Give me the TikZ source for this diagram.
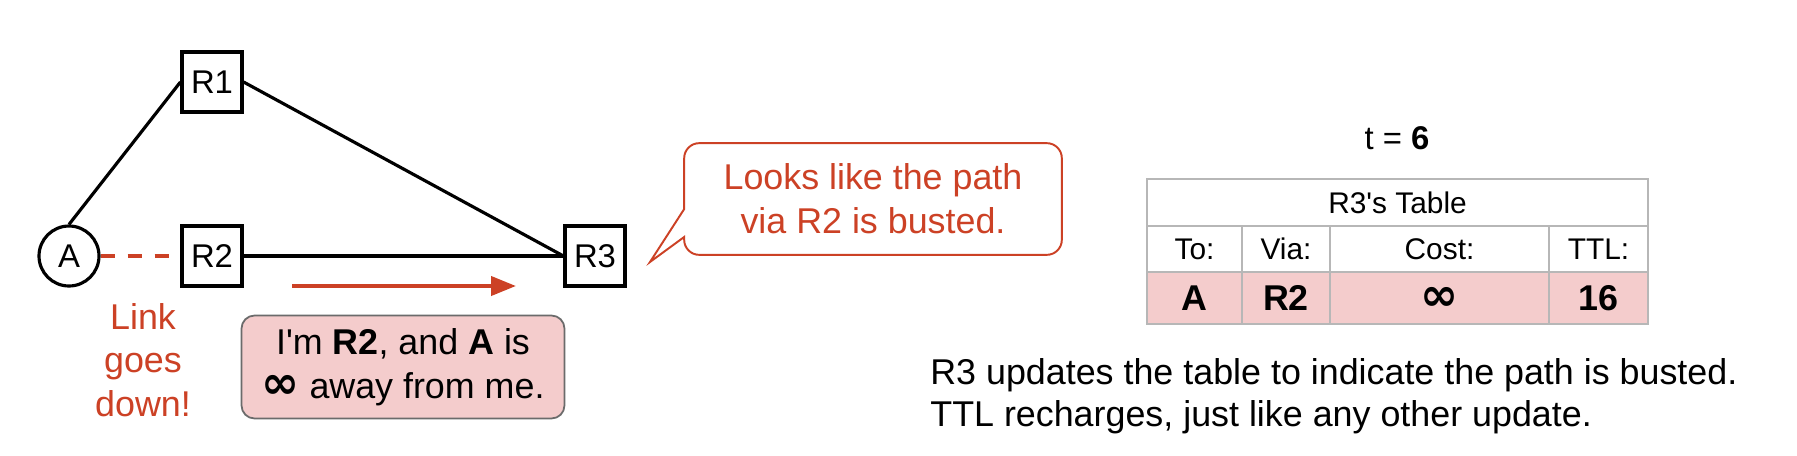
\documentclass[tikz,border=0pt]{standalone}
\usepackage{fontspec}
\setmainfont{Liberation Sans}
\newfontfamily\symfont{DejaVu Sans}
\usetikzlibrary{arrows.meta,calc}
\definecolor{alert}{HTML}{CC4125}
\definecolor{blush}{HTML}{F4CCCC}
\definecolor{frame}{HTML}{6B6B6B}
\definecolor{grid}{HTML}{B7B7B7}
\newcommand{\unbounded}{{\symfont\bfseries\fontsize{26}{24}\selectfont ∞}}

\begin{document}
\begin{tikzpicture}[x=0.02cm,y=-0.02cm,font=\fontsize{20.4}{24.9}\selectfont,
  router/.style={draw,line width=1.8pt,minimum width=1.2cm,minimum height=1.2cm,
    inner sep=0pt,font=\fontsize{18.7}{22}\selectfont},
  host/.style={draw,circle,line width=1.8pt,minimum size=1.2cm,inner sep=0pt,
    font=\fontsize{18.7}{22}\selectfont},
  link/.style={line width=1.8pt},
  cell/.style={draw=grid,line width=1.1pt,inner sep=0pt,text height=12.2pt,text depth=0pt,
    font=\fontsize{17}{20}\selectfont},
  entry/.style={cell,fill=blush,minimum height=1.04cm,text height=14.6pt,
    font=\bfseries\fontsize{20.4}{24}\selectfont}]
  \useasboundingbox[fill=white] (0,0) rectangle (1797,456);

  % network
  \node[host] (A) at (69,256) {A};
  \node[router] (R1) at (212,82) {R1};
  \node[router] (R2) at (212,256) {R2};
  \node[router] (R3) at (595,256) {R3};
  \draw[link] (A.north) -- (R1.west);
  \draw[link] (R1.east) -- (R3.west);
  \draw[link] (R2.east) -- (R3.west);
  \draw[alert,line width=1.8pt,dash pattern=on 0.28cm off 0.26cm] (A.east) -- (R2.west);

  \node[alert,align=center] (linkdown) at (143,360) {Link\\goes\\down!};

  % advertisement from R2
  \coordinate (pushfrom) at (292,286);
  \coordinate (pushto) at (516,286);
  \draw[alert,line width=2.3pt,-{Triangle[length=0.5cm,width=0.38cm]}] (pushfrom) -- (pushto);
  \node[draw=frame,fill=blush,line width=1pt,rounded corners=0.26cm,align=center,
        minimum width=6.46cm,minimum height=2.06cm,inner sep=0pt] (report) at (403,367)
    {I\textquotesingle m \textbf{R2}, and \textbf{A} is\\\unbounded{} away from me.};

  % R3 speaks
  \node[alert,align=center,minimum width=7.54cm,minimum height=2.22cm,inner sep=0pt]
    (busted) at (873,199) {Looks like the path\\via R2 is busted.};
  \coordinate (beak) at (650,262);
  \draw[alert,line width=1.1pt] ($(busted.north west)!0.59!(busted.south west)$)
    [rounded corners=0.3cm] -- (busted.north west) -- (busted.north east)
    -- (busted.south east) -- (busted.south west)
    [sharp corners] -- ($(busted.north west)!0.84!(busted.south west)$) -- (beak) -- cycle;

  % R3's table
  \node[font=\fontsize{18.7}{22}\selectfont] (clock) at (1397,138) {t = \textbf{6}};
  \node[cell,minimum width=10.02cm,minimum height=0.94cm] (title) at (1397.5,202.5)
    {R3\textquotesingle s Table};
  \node[cell,minimum width=1.9cm,minimum height=0.92cm] (hto) at (1194.5,249) {To:};
  \node[cell,minimum width=1.76cm,minimum height=0.92cm] (hvia) at (1286,249) {Via:};
  \node[cell,minimum width=4.38cm,minimum height=0.92cm] (hcost) at (1439.5,249) {Cost:};
  \node[cell,minimum width=1.98cm,minimum height=0.92cm] (httl) at (1598.5,249) {TTL:};
  \node[entry,minimum width=1.9cm] (eto) at (1194.5,298) {A};
  \node[entry,minimum width=1.76cm] (evia) at (1286,298) {R2};
  \node[entry,minimum width=4.38cm] (ecost) at (1439.5,298) {\unbounded};
  \node[entry,minimum width=1.98cm] (ettl) at (1598.5,298) {16};

  \node[anchor=west,align=left,inner sep=0pt,font=\fontsize{20.4}{23.8}\selectfont]
    (summary) at (930,396)
    {R3 updates the table to indicate the path is busted.\\TTL recharges, just like any other update.};
\end{tikzpicture}
\end{document}
